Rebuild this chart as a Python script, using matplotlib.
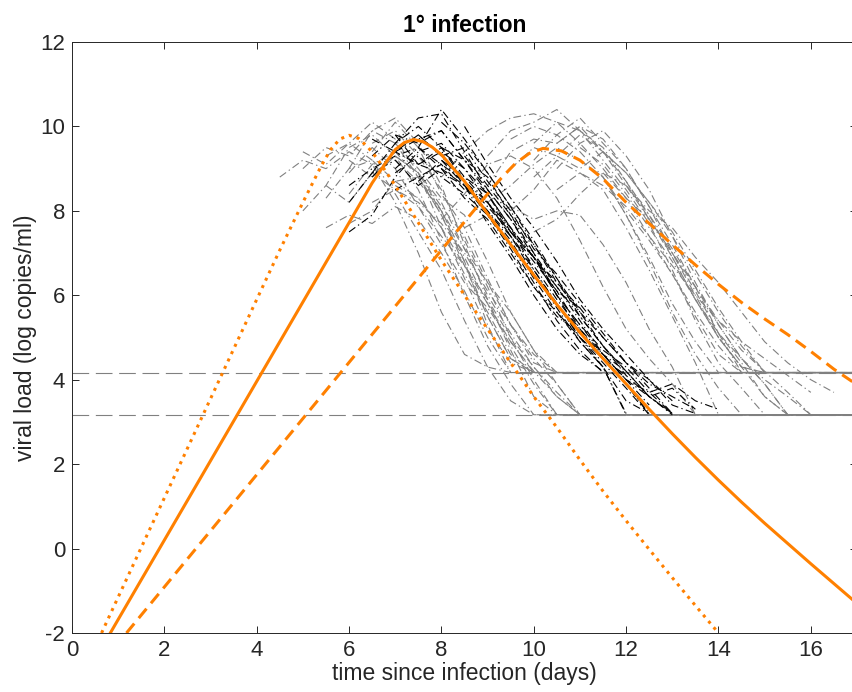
import numpy as np
import matplotlib
matplotlib.use("Agg")
import matplotlib.pyplot as plt

plt.rcParams['font.family'] = ['Liberation Sans', 'DejaVu Sans']
plt.rcParams['axes.unicode_minus'] = False

# detection limits and end of follow-up
lod_hi = 4.17
lod_lo = 3.17
t_end = 17.0
step = 0.5

# model curves (orange)
solid_t = [0.83, 1.0, 2.0, 3.0, 4.0, 5.0, 5.5, 6.0, 6.5, 6.8, 7.0, 7.2, 7.4, 7.6, 7.8, 8.0,
           8.5, 9.0, 9.5, 10.0, 10.5, 11.0, 11.5, 12.0, 12.5, 13.0, 13.5, 14.0, 14.5, 15.0,
           15.5, 16.0, 16.5, 17.0]
solid_v = [-2.0, -1.68, 0.2, 2.08, 3.96, 5.84, 6.78, 7.72, 8.66, 9.15, 9.45, 9.62, 9.69, 9.64,
           9.51, 9.33, 8.7, 7.93, 7.2, 6.48, 5.78, 5.12, 4.5, 3.9, 3.3, 2.72, 2.16, 1.62, 1.1,
           0.6, 0.12, -0.36, -0.83, -1.3]

dotted_t = [0.64, 1.0, 2.0, 3.0, 4.0, 4.5, 5.0, 5.4, 5.6, 5.8, 6.0, 6.2, 6.4, 6.6, 7.0, 7.5,
            8.0, 8.5, 9.0, 9.5, 10.0, 10.5, 11.0, 11.5, 12.0, 12.5, 13.0, 13.5, 14.0]
dotted_v = [-2.0, -1.15, 1.2, 3.55, 5.9, 7.07, 8.2, 9.07, 9.45, 9.7, 9.79, 9.72, 9.52, 9.25,
            8.6, 7.72, 6.83, 6.0, 5.2, 4.4, 3.6, 2.87, 2.1, 1.36, 0.66, -0.02, -0.69, -1.35,
            -2.0]

dashed_t = [1.18, 2.0, 3.0, 4.0, 5.0, 6.0, 7.0, 8.0, 8.5, 9.0, 9.3, 9.6, 9.9, 10.2, 10.6,
            11.0, 11.5, 12.0, 12.5, 13.0, 13.5, 14.0, 14.5, 15.0, 15.5, 16.0, 16.5, 17.0]
dashed_v = [-2.0, -0.91, 0.42, 1.75, 3.08, 4.41, 5.74, 7.07, 7.74, 8.4, 8.78, 9.12, 9.36, 9.48,
            9.42, 9.2, 8.76, 8.2, 7.7, 7.2, 6.72, 6.26, 5.83, 5.44, 5.07, 4.67, 4.25, 3.88]

# observed trajectories: (first day, values every half day)
early_gray = [
    (4.5, [8.8, 9.2, 9.0, 9.4, 9.1, 8.2, 7.0, 5.6, 4.6, 4.3, 4.17]),
    (5.0, [8.0, 8.6, 9.5, 9.8, 9.3, 8.5, 7.3, 6.0, 4.8, 3.9, 3.17]),
    (5.5, [9.3, 9.6, 10.1, 9.7, 8.9, 7.6, 6.4, 5.2, 4.4, 4.17]),
    (5.5, [7.6, 7.9, 7.7, 8.1, 7.8, 7.0, 6.1, 5.0, 4.17]),
    (6.0, [9.0, 9.9, 10.2, 9.6, 8.6, 7.2, 5.9, 4.7, 3.6, 3.17]),
    (6.0, [8.4, 9.1, 9.4, 8.8, 7.9, 6.8, 5.5, 4.5, 4.17]),
    (5.0, [9.4, 9.1, 9.6, 9.2, 8.4, 7.5, 6.6, 5.4, 4.3, 3.5, 3.17]),
    (6.5, [9.6, 9.9, 9.3, 8.5, 7.3, 6.2, 5.0, 4.0, 3.17]),
    (6.0, [7.7, 8.0, 8.7, 8.3, 7.6, 6.5, 5.6, 4.6, 4.17]),
    (6.5, [8.8, 9.3, 8.9, 8.0, 6.9, 5.8, 4.9, 4.2, 3.6, 3.17]),
    (5.5, [8.3, 9.0, 9.2, 8.7, 8.8, 8.0, 6.8, 5.3, 4.17]),
    (7.0, [9.2, 8.7, 8.0, 7.1, 6.3, 5.3, 4.6, 4.17]),
    (6.0, [8.9, 9.5, 9.0, 8.1, 7.4, 6.7, 5.8, 4.8, 3.9, 3.17]),
    (6.5, [8.2, 8.5, 8.2, 7.7, 7.0, 6.1, 5.3, 4.5, 3.9, 3.17]),
    (7.0, [8.6, 8.3, 7.6, 6.7, 5.9, 5.0, 4.3, 3.6, 3.17]),
    (5.0, [9.0, 9.5, 9.3, 9.9, 9.6, 8.8, 7.9, 6.7, 5.5, 4.5, 4.17]),
    (6.5, [9.4, 10.1, 9.5, 8.4, 7.6, 6.4, 5.3, 4.4, 4.17]),
    (5.5, [8.6, 8.2, 8.9, 8.5, 8.1, 7.2, 6.3, 5.7, 4.9, 4.17]),
    (7.0, [9.6, 9.0, 8.3, 7.9, 6.8, 5.6, 4.7, 3.9, 3.17]),
    (6.0, [9.2, 8.8, 9.3, 8.9, 8.2, 7.1, 6.0, 5.1, 4.3, 3.7, 3.17]),
    (7.5, [8.9, 8.1, 7.4, 6.3, 5.6, 4.7, 4.17]),
]

black = [
    (6.5, [9.3, 9.8, 9.6, 9.9, 9.2, 8.4, 7.6, 6.6, 5.8, 5.0, 4.4, 3.8, 3.17]),
    (7.0, [9.6, 10.2, 10.3, 9.4, 8.5, 7.8, 7.0, 6.0, 5.1, 4.5, 3.9, 3.17]),
    (6.0, [8.6, 9.0, 9.3, 9.5, 9.0, 8.6, 7.9, 7.2, 6.3, 5.4, 4.7, 4.17]),
    (7.5, [9.5, 10.4, 9.7, 8.9, 8.1, 7.3, 6.4, 5.5, 4.8, 4.1, 3.6, 3.17]),
    (6.5, [8.8, 9.4, 9.1, 8.9, 8.6, 8.0, 7.3, 6.4, 5.6, 4.9, 4.3, 3.17]),
    (7.0, [8.9, 9.3, 8.8, 8.4, 7.9, 7.1, 6.2, 5.5, 5.1, 4.6, 4.2]),
    (7.5, [9.1, 9.4, 9.0, 8.4, 7.6, 6.9, 6.1, 5.2, 4.5, 3.9, 3.2]),
    (6.0, [7.5, 7.9, 8.8, 9.4, 9.6, 9.0, 8.2, 7.4, 6.5, 5.7, 4.9, 4.3, 3.5, 3.2]),
    (8.0, [10.1, 9.6, 8.9, 8.1, 7.2, 6.3, 5.6, 5.0, 4.4, 3.8, 3.2]),
    (7.0, [9.0, 9.5, 9.1, 8.7, 8.1, 7.5, 6.8, 6.1, 5.7]),
    (7.5, [8.7, 9.2, 8.6, 8.0, 7.4, 6.7, 5.9, 5.2, 4.6, 4.0, 3.7, 3.2]),
    (6.5, [9.7, 9.4, 9.8, 9.3, 8.6, 7.7, 6.9, 6.0, 5.2, 4.6, 4.2]),
    (8.0, [9.5, 9.2, 8.5, 7.8, 6.9, 6.2, 5.4, 4.6, 4.0, 3.6, 3.8, 3.3]),
    (7.0, [9.8, 9.1, 9.5, 8.8, 8.2, 7.4, 6.6, 5.8, 5.0, 4.3, 3.2]),
    (8.5, [9.3, 8.6, 7.9, 7.0, 6.2, 5.5, 4.8, 4.2, 3.6, 3.2]),
    (6.5, [8.9, 9.6, 10.0, 9.5, 8.7, 8.2, 7.5, 6.9, 6.0, 5.3, 4.6, 4.0, 3.4]),
    (7.0, [9.4, 9.7, 9.9, 9.2, 8.8, 7.9, 7.2, 6.4, 5.6, 4.8, 4.2, 3.6, 3.2]),
    (8.0, [9.2, 8.8, 8.4, 7.5, 6.9, 6.0, 5.3, 4.7, 4.3, 3.7, 3.9, 3.5, 3.3]),
    (6.0, [8.2, 8.9, 9.2, 8.6, 9.0, 8.3, 7.8, 7.0, 6.2, 5.6, 5.0, 4.5, 4.1]),
    (7.5, [9.8, 9.3, 9.5, 8.7, 8.0, 7.1, 6.5, 5.8, 5.1, 4.4, 4.0, 3.5]),
    (8.5, [10.0, 9.1, 8.3, 7.6, 6.8, 5.9, 5.2, 4.6, 4.0, 3.4, 3.2]),
    (7.0, [8.5, 8.8, 9.1, 8.5, 8.2, 7.6, 6.9, 6.3, 5.7, 5.0, 4.4, 3.9, 3.6, 3.3]),
]

late_gray = [
    (8.0, [8.8, 9.4, 9.9, 10.2, 10.3, 10.1, 9.6, 9.0, 8.3, 7.4, 6.5, 5.5, 4.6, 4.17]),
    (9.0, [9.3, 9.9, 10.1, 10.4, 9.9, 9.2, 8.5, 7.7, 6.6, 5.4, 4.4, 3.8, 3.17]),
    (8.5, [7.6, 7.9, 8.1, 7.8, 8.0, 7.9, 7.2, 6.3, 5.2, 4.3, 3.17]),
    (9.5, [9.0, 9.5, 9.3, 9.8, 9.4, 8.6, 7.8, 7.0, 6.1, 5.1, 4.17]),
    (10.0, [9.2, 9.8, 10.2, 9.6, 9.0, 8.1, 7.2, 6.2, 5.1, 4.4, 3.6, 3.17]),
    (9.0, [8.2, 8.6, 9.1, 9.5, 9.2, 8.8, 8.0, 7.3, 6.5, 5.6, 4.8, 4.17]),
    (10.5, [9.6, 10.0, 9.4, 8.7, 7.9, 6.9, 5.9, 5.0, 4.3, 3.6, 3.17]),
    (8.0, [7.8, 8.4, 9.1, 9.3, 9.0, 8.3, 7.3, 6.2, 5.2, 4.5, 3.9, 3.17]),
    (10.0, [8.8, 9.3, 9.0, 9.4, 8.9, 8.2, 7.5, 6.6, 5.7, 4.9, 4.17]),
    (11.0, [9.5, 9.1, 8.4, 7.6, 6.8, 5.9, 5.1, 4.5, 4.0, 3.6, 3.17]),
    (10.5, [8.5, 8.9, 8.6, 8.1, 7.4, 6.7, 6.0, 5.4, 4.9, 4.5, 4.1, 3.7]),
    (9.5, [9.7, 10.0, 9.8, 9.4, 8.8, 7.9, 6.8, 5.6, 4.6, 3.8, 3.17]),
    (11.0, [9.9, 9.4, 8.9, 8.2, 7.4, 6.5, 5.6, 4.8, 4.17]),
    (10.0, [7.5, 7.8, 8.4, 8.9, 8.6, 7.9, 7.1, 6.2, 5.3, 4.5, 3.9, 3.17]),
    (11.5, [8.9, 8.3, 7.8, 7.0, 6.2, 5.4, 4.7, 4.2, 3.7, 3.17]),
    (9.0, [8.6, 9.4, 9.7, 9.6, 10.0, 9.7, 9.0, 8.1, 7.0, 6.0, 5.0, 4.3, 4.17]),
    (10.5, [9.0, 9.6, 9.9, 9.3, 8.5, 7.4, 6.3, 5.3, 4.5, 3.9, 3.17]),
    (11.0, [9.2, 8.8, 7.9, 6.9, 5.8, 4.9, 4.17]),
    (9.5, [8.0, 8.5, 9.2, 8.9, 8.5, 7.6, 6.6, 5.5, 4.4, 3.17]),
    (12.0, [8.6, 8.0, 7.6, 6.9, 6.3, 5.6, 4.9, 4.4, 4.0, 3.7]),
    (10.0, [9.6, 10.1, 9.9, 9.5, 8.7, 7.8, 6.9, 5.9, 5.0, 4.3, 4.17]),
]

orange = '#ff8000'
gray = '#808080'

fig = plt.figure(figsize=(8.53, 6.92), dpi=100)
ax = fig.add_axes([72 / 853, 59 / 692, 785 / 853, 591 / 692])


def draw_traj(group, color, hold_at_limit):
    for t0, vals in group:
        t = list(t0 + step * np.arange(len(vals)))
        v = list(vals)
        # values below detection stay at the limit until the end
        if hold_at_limit and v[-1] in (lod_hi, lod_lo):
            t.append(t_end)
            v.append(v[-1])
        ax.plot(t, v, color=color, lw=0.8, dashes=(7, 3, 1.2, 3))


# detection limits
for lod in (lod_hi, lod_lo):
    ax.plot([0, t_end], [lod, lod], color=gray, lw=0.8, dashes=(15, 6))

draw_traj(early_gray, gray, True)
draw_traj(late_gray, gray, True)
draw_traj(black, 'black', False)

ax.plot(solid_t, solid_v, color=orange, lw=2.2)
ax.plot(dotted_t, dotted_v, color=orange, lw=2.2, dashes=(1, 1.65))
ax.plot(dashed_t, dashed_v, color=orange, lw=2.2, dashes=(4, 2.3))

ax.set_xlim(0, 17)
ax.set_ylim(-2, 12)
ax.set_xticks(np.arange(0, 17, 2))
ax.set_yticks(np.arange(-2, 13, 2))
ax.tick_params(direction='in', top=True, right=True, length=5, width=0.7,
               labelsize=16, colors='#262626', pad=5)
for s in ax.spines.values():
    s.set_color('#262626')
    s.set_linewidth(0.7)

ax.set_xlabel('time since infection (days)', fontsize=16.5, color='#262626', labelpad=1)
ax.set_ylabel('viral load (log copies/ml)', fontsize=16.5, color='#262626', labelpad=2)
ax.set_title('1° infection', fontsize=16.5, fontweight='bold', pad=7)

fig.savefig('out.png', dpi=100)
